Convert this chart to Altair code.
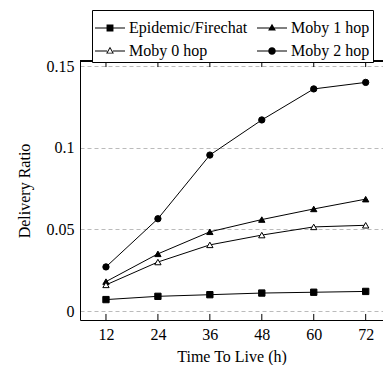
import altair as alt
import pandas as pd

ttl = [12, 24, 36, 48, 60, 72]
epidemic = [0.007, 0.009, 0.010, 0.011, 0.0115, 0.012]
moby0 = [0.016, 0.030, 0.0405, 0.0465, 0.0515, 0.0525]
moby1 = [0.018, 0.035, 0.0485, 0.056, 0.0625, 0.0685]
moby2 = [0.027, 0.0565, 0.0955, 0.117, 0.136, 0.140]

names = ["Epidemic/Firechat", "Moby 1 hop", "Moby 0 hop", "Moby 2 hop"]
series_vals = [epidemic, moby1, moby0, moby2]
y_ticks = [0, 0.05, 0.1, 0.15]

rows = []
for n, vals in zip(names, series_vals):
    for t, v in zip(ttl, vals):
        rows.append({"ttl": t, "ratio": v, "series": n})
df = pd.DataFrame(rows)
tick_df = pd.DataFrame({"t": ttl})

XMIN, XMAX = 6.0, 76.0
YMIN, YMAX = -0.0055, 0.1531
TICK = 0.0037

FONT = "Liberation Serif"
FS = 16

xs = alt.Scale(domain=[XMIN, XMAX], nice=False, zero=False)
ys = alt.Scale(domain=[YMIN, YMAX], nice=False, zero=False)

x_axis = alt.Axis(values=ttl, ticks=False, grid=False, domainColor="black",
                  labelFont=FONT, labelFontSize=FS, labelColor="black", labelPadding=6,
                  title="Time To Live (h)", titleFont=FONT, titleFontSize=FS,
                  titleFontWeight=100, titleColor="black", titlePadding=6)
y_axis = alt.Axis(values=y_ticks, format="~g", ticks=False, grid=True, gridDash=[4, 3],
                  gridColor="#bbbbbb", domainColor="black",
                  labelFont=FONT, labelFontSize=FS, labelColor="black", labelPadding=6,
                  title="Delivery Ratio", titleFont=FONT, titleFontSize=FS,
                  titleFontWeight=100, titleColor="black", titlePadding=14)

base = alt.Chart(df)

lines = base.mark_line(color="black", strokeWidth=1).encode(
    x=alt.X("ttl:Q", scale=xs, axis=x_axis),
    y=alt.Y("ratio:Q", scale=ys, axis=y_axis),
    detail="series:N",
)

points = base.mark_point(filled=True, stroke="black", strokeWidth=1, opacity=1, size=40).encode(
    x=alt.X("ttl:Q"),
    y=alt.Y("ratio:Q"),
    shape=alt.Shape("series:N", sort=names, scale=alt.Scale(domain=names,
                    range=["square", "triangle-up", "triangle-up", "circle"]), legend=None),
    fill=alt.Fill("series:N", sort=names, scale=alt.Scale(domain=names,
                  range=["black", "black", "white", "black"]), legend=None),
)

ln = "M-1,-0.035H1V0.035H-1Z"
p_epi = ln + " M-0.23,-0.23H0.23V0.23H-0.23Z"
p_m1 = ln + " M0,-0.29L0.26,0.17L-0.26,0.17Z"
p_m0 = ("M-1,-0.035H-0.2V0.035H-1Z M0.2,-0.035H1V0.035H0.2Z "
        "M0,-0.29L0.26,0.17L-0.26,0.17Z M0,-0.16L-0.155,0.115L0.155,0.115Z")
p_m2 = ln + " M0.25,0A0.25,0.25,0,1,1,-0.25,0A0.25,0.25,0,1,1,0.25,0Z"

legend_layer = base.mark_point(filled=True, color="black", strokeWidth=0, opacity=1, size=900).encode(
    shape=alt.Shape("series:N", sort=names,
                    scale=alt.Scale(domain=names, range=[p_epi, p_m1, p_m0, p_m2]),
                    legend=alt.Legend(title=None, orient="none", legendX=12, legendY=-51,
                                      direction="horizontal",
                                      columns=2, symbolSize=900, symbolStrokeWidth=0,
                                      symbolFillColor="black", labelFont=FONT, labelFontSize=FS,
                                      labelColor="black", labelOffset=4, padding=3,
                                      rowPadding=-3, columnPadding=9, strokeColor="black",
                                      fillColor="white", labelLimit=300)),
).transform_filter("false")

ticks_bottom = alt.Chart(tick_df).mark_rule(color="black", strokeWidth=1).encode(
    x=alt.X("t:Q"), y=alt.datum(YMIN), y2=alt.datum(YMIN + TICK))
ticks_top = alt.Chart(tick_df).mark_rule(color="black", strokeWidth=1).encode(
    x=alt.X("t:Q"), y=alt.datum(YMAX), y2=alt.datum(YMAX - TICK))
top_border = alt.Chart(tick_df).mark_rule(color="black", strokeWidth=1).encode(
    x=alt.datum(XMIN), x2=alt.datum(XMAX), y=alt.datum(YMAX))

chart = alt.layer(ticks_bottom, ticks_top, top_border, lines, points, legend_layer).resolve_scale(
    shape="independent"
).properties(
    width=303, height=259,
    autosize=alt.AutoSizeParams(type="none"),
    padding={"left": 80, "top": 61, "right": 0, "bottom": 45},
).configure(
    view=alt.ViewConfig(stroke=None),
    axis=alt.AxisConfig(titleFontWeight=100),
    style={"guide-title": {"fontWeight": 100}},
)

chart.save("out.html", embed_options={"renderer": "svg", "actions": False})
